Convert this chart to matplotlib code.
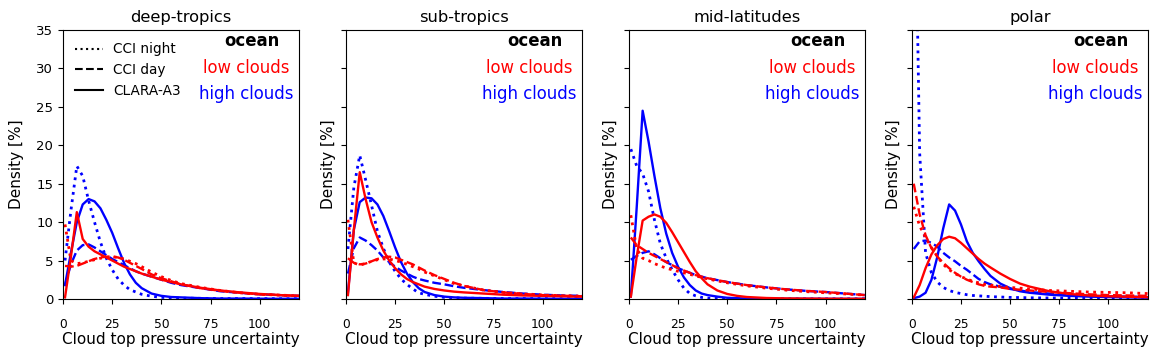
import numpy as np
import matplotlib.pyplot as plt
from matplotlib.lines import Line2D

# CTP uncertainty bins
x = [1, 4, 7, 10, 13, 16, 19, 22, 25, 28, 31, 34, 37, 40, 45, 50, 55, 60, 70, 80, 90, 100, 110, 120]

regions = ['deep-tropics', 'sub-tropics', 'mid-latitudes', 'polar']

# deep-tropics
dt_high_night = [5, 11.5, 17.3, 16, 12.8, 10, 7.4, 5.3, 3.8, 2.6, 1.8, 1.2, 0.9, 0.6, 0.35, 0.2, 0.15, 0.1, 0.08, 0.05, 0.05, 0.04, 0.03, 0.03]
dt_high_day = [1.8, 4.5, 6.3, 7.0, 7.1, 6.7, 6.2, 5.7, 5.2, 4.8, 4.4, 4.0, 3.6, 3.3, 2.9, 2.5, 2.1, 1.8, 1.4, 1.0, 0.8, 0.6, 0.5, 0.4]
dt_high_clara = [1.8, 6, 10, 12.3, 13, 12.7, 11.8, 10.3, 8.6, 6.6, 4.7, 3.2, 2.1, 1.4, 0.7, 0.4, 0.25, 0.2, 0.1, 0.05, 0.05, 0.03, 0.02, 0.02]
dt_low_night = [9.7, 5.0, 4.6, 4.7, 4.9, 5.1, 5.3, 5.4, 5.5, 5.4, 5.2, 4.9, 4.6, 4.2, 3.5, 2.9, 2.4, 2.0, 1.5, 1.1, 0.8, 0.6, 0.5, 0.4]
dt_low_day = [4.3, 4.2, 4.3, 4.6, 4.9, 5.2, 5.4, 5.5, 5.5, 5.4, 5.1, 4.7, 4.3, 3.9, 3.2, 2.7, 2.3, 1.9, 1.4, 1.05, 0.8, 0.6, 0.5, 0.4]
dt_low_clara = [0.2, 5.5, 11.3, 7.8, 6.8, 6.2, 5.8, 5.4, 5.0, 4.6, 4.2, 3.9, 3.6, 3.3, 2.9, 2.5, 2.2, 1.9, 1.45, 1.1, 0.85, 0.65, 0.5, 0.4]

# sub-tropics
st_high_night = [6.5, 14.5, 18.7, 15.5, 12.2, 8.8, 6.6, 4.8, 3.6, 2.6, 1.9, 1.3, 0.8, 0.6, 0.35, 0.2, 0.15, 0.1, 0.08, 0.05, 0.05, 0.04, 0.03, 0.03]
st_high_day = [3.3, 6.6, 8.0, 7.6, 7.0, 6.3, 5.4, 4.8, 4.2, 3.7, 3.3, 2.9, 2.6, 2.4, 2.1, 1.9, 1.65, 1.45, 1.15, 0.9, 0.7, 0.55, 0.45, 0.4]
st_high_clara = [0.8, 9, 12.6, 13.2, 13.1, 12.3, 10.8, 8.8, 6.7, 4.8, 3.3, 2.2, 1.4, 0.9, 0.5, 0.3, 0.2, 0.15, 0.1, 0.05, 0.05, 0.03, 0.02, 0.02]
st_low_night = [10.3, 4.7, 4.4, 4.6, 4.9, 5.1, 5.2, 5.2, 5.0, 4.8, 4.5, 4.2, 3.9, 3.5, 3.0, 2.5, 2.0, 1.7, 1.15, 0.85, 0.65, 0.5, 0.42, 0.35]
st_low_day = [5.3, 4.7, 4.5, 4.6, 4.9, 5.2, 5.4, 5.5, 5.4, 5.1, 4.8, 4.5, 4.1, 3.7, 3.1, 2.6, 2.1, 1.7, 1.15, 0.85, 0.65, 0.5, 0.42, 0.35]
st_low_clara = [0.5, 9, 16.5, 13, 10, 8, 6.3, 5.0, 4.0, 3.2, 2.6, 2.2, 1.9, 1.6, 1.3, 1.1, 0.95, 0.85, 0.7, 0.55, 0.45, 0.4, 0.35, 0.3]

# mid-latitudes
ml_high_night = [19.5, 17.3, 16.3, 14, 10.3, 7.2, 5.3, 3.8, 2.5, 1.4, 0.7, 0.4, 0.2, 0.1, 0.05, 0.03, 0.02, 0.02, 0.01, 0.01, 0.01, 0.01, 0.01, 0.01]
ml_high_day = [5.1, 5.6, 6.0, 6.2, 5.8, 5.3, 4.8, 4.4, 4.0, 3.7, 3.4, 3.1, 2.9, 2.7, 2.45, 2.2, 2.0, 1.8, 1.5, 1.25, 1.05, 0.9, 0.7, 0.5]
ml_high_clara = [0.3, 12, 24.5, 20.5, 16, 11.8, 8.5, 6.0, 4.2, 2.8, 1.8, 1.1, 0.7, 0.5, 0.3, 0.15, 0.1, 0.05, 0.03, 0.02, 0.02, 0.01, 0.01, 0.01]
ml_low_night = [10.9, 6.5, 5.3, 5.0, 4.6, 4.3, 4.0, 3.8, 3.6, 3.4, 3.2, 3.0, 2.8, 2.6, 2.35, 2.1, 1.9, 1.7, 1.4, 1.15, 0.95, 0.8, 0.65, 0.5]
ml_low_day = [8.0, 7.0, 6.5, 6.0, 5.6, 5.2, 4.8, 4.4, 4.0, 3.7, 3.4, 3.1, 2.9, 2.7, 2.45, 2.2, 2.0, 1.8, 1.5, 1.25, 1.05, 0.9, 0.7, 0.5]
ml_low_clara = [0.3, 5.5, 10.2, 10.7, 11, 10.7, 9.9, 8.7, 7.4, 6.1, 4.8, 3.6, 2.7, 1.9, 1.1, 0.65, 0.4, 0.25, 0.12, 0.07, 0.05, 0.03, 0.02, 0.02]

# polar
po_high_night = [65, 19, 6, 3.4, 2.2, 1.5, 1.1, 0.85, 0.7, 0.55, 0.45, 0.4, 0.35, 0.3, 0.25, 0.2, 0.18, 0.15, 0.12, 0.1, 0.08, 0.07, 0.06, 0.05]
po_high_day = [6.5, 7.5, 7.6, 7.3, 6.8, 6.0, 5.4, 4.9, 4.3, 3.8, 3.2, 2.6, 2.2, 1.9, 1.6, 1.3, 1.1, 0.9, 0.7, 0.5, 0.4, 0.35, 0.3, 0.25]
po_high_clara = [0.1, 0.3, 0.8, 2.5, 5.5, 9.2, 12.3, 11.5, 9.7, 7.5, 6.0, 4.9, 3.9, 3.0, 2.0, 1.4, 1.0, 0.8, 0.55, 0.4, 0.3, 0.25, 0.2, 0.15]
po_low_night = [12, 9.5, 8, 6.7, 5.5, 4.5, 3.8, 3.3, 2.9, 2.6, 2.3, 2.1, 1.9, 1.8, 1.6, 1.5, 1.4, 1.3, 1.1, 1.0, 0.9, 0.85, 0.8, 0.7]
po_low_day = [15, 11, 8.3, 6.6, 5.5, 4.7, 4.0, 3.4, 2.9, 2.5, 2.2, 1.9, 1.7, 1.6, 1.5, 1.3, 1.2, 1.1, 0.9, 0.75, 0.6, 0.5, 0.45, 0.4]
po_low_clara = [0.2, 1.8, 4.0, 5.8, 7.0, 7.8, 8.1, 7.9, 7.3, 6.6, 5.9, 5.2, 4.6, 4.1, 3.3, 2.6, 2.0, 1.6, 1.0, 0.65, 0.45, 0.35, 0.28, 0.22]

data = {
    'deep-tropics': (dt_high_night, dt_high_day, dt_high_clara, dt_low_night, dt_low_day, dt_low_clara),
    'sub-tropics': (st_high_night, st_high_day, st_high_clara, st_low_night, st_low_day, st_low_clara),
    'mid-latitudes': (ml_high_night, ml_high_day, ml_high_clara, ml_low_night, ml_low_day, ml_low_clara),
    'polar': (po_high_night, po_high_day, po_high_clara, po_low_night, po_low_day, po_low_clara),
}

fig, axes = plt.subplots(1, 4, figsize=(11.57, 3.58), dpi=100, sharey=True)
plt.subplots_adjust(left=0.0545, right=0.992, bottom=0.165, top=0.916, wspace=0.199)

for ax, reg in zip(axes, regions):
    hn, hd, hc, ln, ld, lc = data[reg]
    ax.plot(x, hn, color='blue', ls=':', lw=2)
    ax.plot(x, hd, color='blue', ls='--', lw=1.7)
    ax.plot(x, hc, color='blue', ls='-', lw=1.7)
    ax.plot(x, ln, color='red', ls=':', lw=2)
    ax.plot(x, ld, color='red', ls='--', lw=1.7)
    ax.plot(x, lc, color='red', ls='-', lw=1.7)
    ax.set_xlim(0, 120)
    ax.set_ylim(0, 35)
    ax.set_xticks([0, 25, 50, 75, 100])
    ax.set_yticks(np.arange(0, 36, 5))
    ax.tick_params(axis='x', labelsize=8.8, pad=10)
    ax.tick_params(axis='y', labelsize=9.5)
    ax.set_title(reg, fontsize=11.7)
    ax.set_xlabel('Cloud top pressure uncertainty', fontsize=11, labelpad=1)
    ax.set_ylabel('Density [%]', fontsize=11, labelpad=9 if ax is axes[0] else 4)
    ax.yaxis.set_tick_params(labelleft=(ax is axes[0]))
    ax.text(0.80, 0.958, 'ocean', transform=ax.transAxes, ha='center', va='center',
            fontsize=11.9, fontweight='bold', color='black')
    ax.text(0.777, 0.86, 'low clouds', transform=ax.transAxes, ha='center', va='center',
            fontsize=11.9, color='red')
    ax.text(0.777, 0.761, 'high clouds', transform=ax.transAxes, ha='center', va='center',
            fontsize=11.9, color='blue')

handles = [Line2D([], [], color='k', ls=':', lw=1.5),
           Line2D([], [], color='k', ls='--', lw=1.5),
           Line2D([], [], color='k', ls='-', lw=1.5)]
axes[0].legend(handles, ['CCI night', 'CCI day', 'CLARA-A3'], loc='upper left',
               frameon=False, fontsize=9.8)

plt.savefig('out.png', dpi=100)
